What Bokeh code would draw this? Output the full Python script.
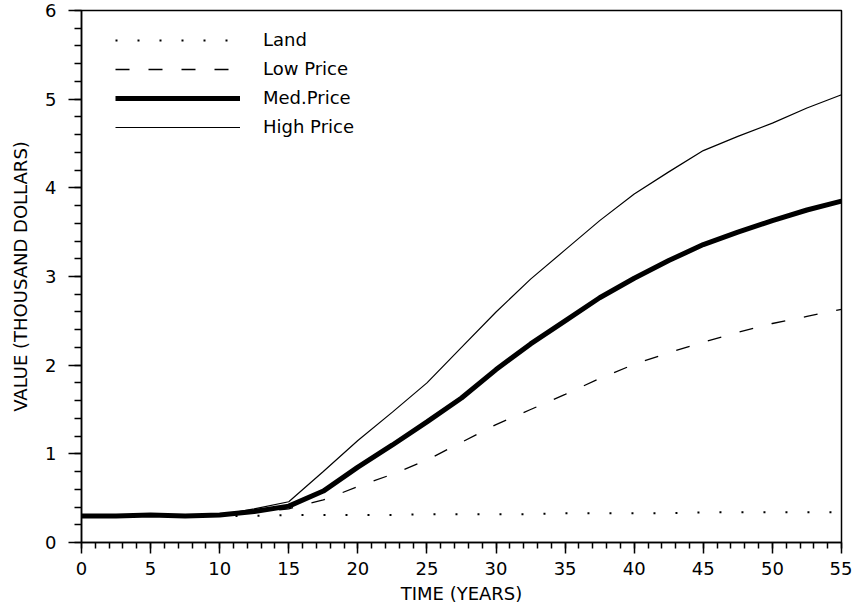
from bokeh.plotting import figure
from bokeh.models import Legend, LegendItem, Range1d, SingleIntervalTicker
from bokeh.embed import file_html
from bokeh.resources import INLINE

years = [0, 2.5, 5, 7.5, 10, 12.5, 15, 17.5, 20, 22.5, 25, 27.5, 30, 32.5,
         35, 37.5, 40, 42.5, 45, 47.5, 50, 52.5, 55]
land = [0.30, 0.30, 0.30, 0.30, 0.30, 0.30, 0.31, 0.31, 0.31, 0.31, 0.32, 0.32,
        0.32, 0.32, 0.33, 0.33, 0.33, 0.33, 0.34, 0.34, 0.34, 0.34, 0.34]
low_price = [0.30, 0.30, 0.31, 0.30, 0.31, 0.34, 0.38, 0.48, 0.63, 0.77, 0.93,
             1.13, 1.33, 1.50, 1.67, 1.85, 2.01, 2.14, 2.26, 2.37, 2.47, 2.55, 2.63]
med_price = [0.30, 0.30, 0.31, 0.30, 0.31, 0.35, 0.41, 0.58, 0.85, 1.10, 1.36,
             1.63, 1.95, 2.24, 2.50, 2.76, 2.98, 3.18, 3.36, 3.50, 3.63, 3.75, 3.85]
high_price = [0.30, 0.30, 0.31, 0.30, 0.31, 0.38, 0.46, 0.80, 1.15, 1.47, 1.80,
              2.20, 2.60, 2.97, 3.30, 3.63, 3.93, 4.18, 4.42, 4.58, 4.73, 4.90, 5.05]
series_names = ["Land", "Low Price", "Med.Price", "High Price"]

FONT = "DejaVu Sans"
FRAME_H = 532

p = figure(width=852, height=603, frame_width=760, frame_height=FRAME_H,
           output_backend="svg", toolbar_location=None,
           x_range=Range1d(0, 55), y_range=Range1d(0, 6),
           min_border_left=81, min_border_right=11, min_border_top=10,
           min_border_bottom=60)

p.grid.visible = False
p.outline_line_color = "black"
p.outline_line_width = 1.5
p.background_fill_color = "white"
p.border_fill_color = "white"

r_land = p.line(years, land, line_color="black", line_width=2, line_dash="2 20")
r_low = p.line(years, low_price, line_color="black", line_width=1.3, line_dash="14 19")
r_high = p.line(years, high_price, line_color="black", line_width=1.2)
r_med = p.line(years, med_price, line_color="black", line_width=5)

for ax in (p.xaxis[0], p.yaxis[0]):
    ax.axis_line_color = "black"
    ax.axis_line_width = 1.5
    ax.major_tick_line_color = "black"
    ax.minor_tick_line_color = "black"
    ax.major_tick_line_width = 1.5
    ax.minor_tick_line_width = 1.5
    ax.major_tick_in = 0
    ax.minor_tick_in = 0
    ax.major_label_text_font = FONT
    ax.major_label_text_font_size = "18px"
    ax.major_label_text_color = "black"
    ax.axis_label_text_font = FONT
    ax.axis_label_text_font_size = "18px"
    ax.axis_label_text_font_style = "normal"
    ax.axis_label_text_color = "black"

p.xaxis.ticker = SingleIntervalTicker(interval=5, num_minor_ticks=5)
p.yaxis.ticker = SingleIntervalTicker(interval=1, num_minor_ticks=5)
p.xaxis.major_tick_out = 11
p.xaxis.minor_tick_out = 6
p.yaxis.major_tick_out = 13
p.yaxis.minor_tick_out = 7
p.xaxis.major_label_standoff = 8
p.yaxis.major_label_standoff = 12
p.xaxis.axis_label = "TIME (YEARS)"
p.yaxis.axis_label = "VALUE (THOUSAND DOLLARS)"
p.xaxis.axis_label_standoff = 5
p.yaxis.axis_label_standoff = 11

items = [LegendItem(label=n, renderers=[r]) for n, r in
         zip(series_names, [r_land, r_low, r_med, r_high])]
legend_h = 4 * 20 + 3 * 8
legend = Legend(items=items, location=(34, FRAME_H - 23 - legend_h),
                border_line_color=None, background_fill_alpha=0,
                padding=0, margin=0, spacing=8,
                glyph_width=125, glyph_height=20, label_height=20,
                label_standoff=23, label_text_font=FONT,
                label_text_font_size="18px", label_text_color="black")
p.add_layout(legend)

open("out.html", "w").write(file_html(p, INLINE))
